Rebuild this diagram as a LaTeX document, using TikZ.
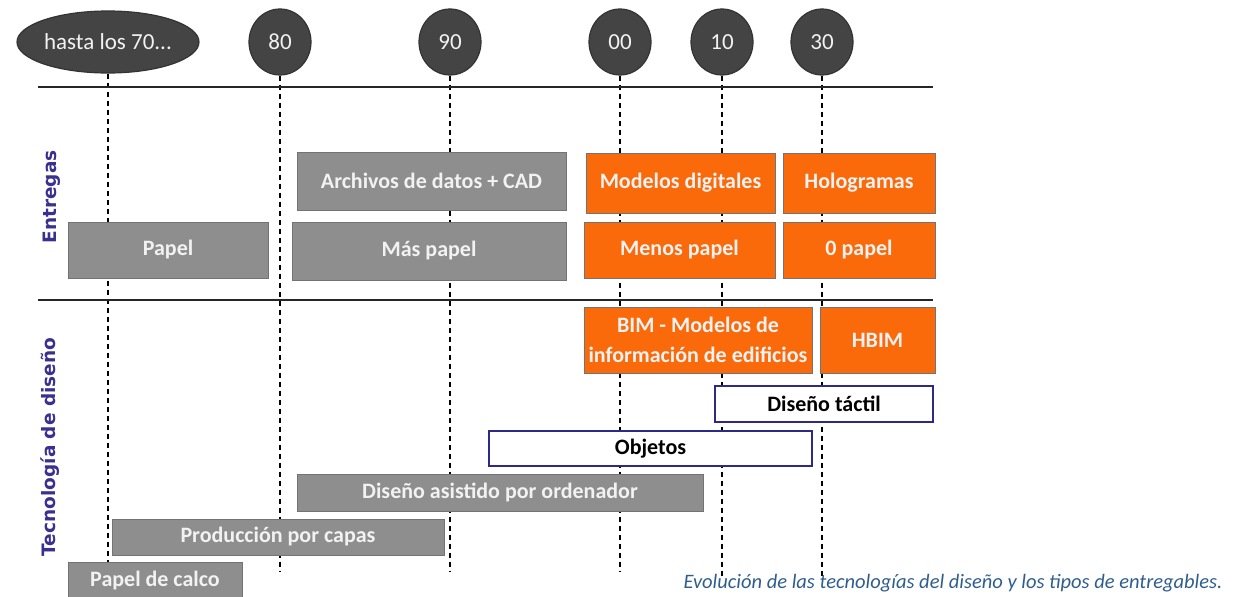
\documentclass[tikz,border=0pt]{standalone}
\usepackage{fontspec}
\setmainfont{Carlito}
\newfontfamily\labfont{DejaVu Sans}
\usetikzlibrary{shapes.geometric}
\definecolor{boxgray}{HTML}{8E8E8E}
\definecolor{boxorange}{HTML}{FA6A0A}
\definecolor{circdark}{HTML}{444444}
\definecolor{labblue}{HTML}{3A3090}
\definecolor{capblue}{HTML}{2F5E8E}
\definecolor{framblue}{HTML}{2C2A86}
\definecolor{txtlight}{HTML}{F2F2F2}
\begin{document}
\begin{tikzpicture}[x=1pt,y=-1pt,
  era/.style={ellipse,fill=circdark,draw=black!80,line width=1.2pt,
    text=txtlight,font=\fontsize{23}{25}\selectfont,inner sep=0pt},
  vline/.style={draw=black,dash pattern=on 5pt off 4pt,line width=1.2pt},
  hline/.style={draw=black!85,line width=2pt},
  graybar/.style={rectangle,fill=boxgray,draw=black!55,line width=0.8pt,text=txtlight,
    font=\bfseries\fontsize{22}{24}\selectfont,inner sep=0pt},
  orangebar/.style={rectangle,fill=boxorange,draw=black!55,line width=0.8pt,text=txtlight,
    font=\bfseries\fontsize{22}{30}\selectfont,inner sep=0pt,align=center},
  framebar/.style={rectangle,fill=white,draw=framblue,line width=2.8pt,text=black,
    font=\bfseries\fontsize{22}{24}\selectfont,inner sep=0pt},
  sidelab/.style={rotate=90,text=labblue,font=\labfont\bfseries\fontsize{18.5}{20}\selectfont}
]
\useasboundingbox (0,0) rectangle (1253,597);

% timeline markers
\node[era,minimum width=182pt,minimum height=62pt] (c70) at (108,42) {hasta los 70...};
\node[era,minimum width=62pt,minimum height=66pt] (c80) at (280,42) {80};
\node[era,minimum width=62pt,minimum height=66pt] (c90) at (450,42) {90};
\node[era,minimum width=62pt,minimum height=66pt] (c00) at (620,42) {00};
\node[era,minimum width=62pt,minimum height=66pt] (c10) at (722,42) {10};
\node[era,minimum width=62pt,minimum height=66pt] (c30) at (822,42) {30};

% bottom ends of the dashed guides
\coordinate (e70) at (108,572);
\coordinate (e80) at (280,572);
\coordinate (e90) at (450,572);
\coordinate (e00) at (620,572);
\coordinate (e10) at (722,576);
\coordinate (e30) at (822,576);

\draw[vline] (c70.south) -- (e70);
\draw[vline] (c80.south) -- (e80);
\draw[vline] (c90.south) -- (e90);
\draw[vline] (c00.south) -- (e00);
\draw[vline] (c10.south) -- (e10);
\draw[vline] (c30.south) -- (e30);

% horizontal separators
\coordinate (hl1) at (38,87);
\coordinate (hr1) at (933,87);
\coordinate (hl2) at (38,300);
\coordinate (hr2) at (933,300);
\draw[hline] (hl1) -- (hr1);
\draw[hline] (hl2) -- (hr2);

% side labels
\node[sidelab] (lent) at (52,197) {Entregas};
\node[sidelab] (ltec) at (50,447) {Tecnología de diseño};

% Entregas
\node[graybar,minimum width=269pt,minimum height=58pt] (arch) at (431.5,181) {Archivos de datos + CAD};
\node[graybar,minimum width=200pt,minimum height=56pt] (pap) at (168,250) {Papel};
\node[graybar,minimum width=274pt,minimum height=58pt] (mas) at (429,251) {Más papel};
\node[orangebar,minimum width=189pt,minimum height=60pt] (mod) at (680.5,183) {Modelos digitales};
\node[orangebar,minimum width=152pt,minimum height=60pt] (hol) at (859,183) {Hologramas};
\node[orangebar,minimum width=191pt,minimum height=56pt] (men) at (679.5,250) {Menos papel};
\node[orangebar,minimum width=152pt,minimum height=56pt] (cero) at (859,250) {0 papel};

% Tecnologia
\node[orangebar,minimum width=228pt,minimum height=66pt] (bim) at (698,340) {BIM - Modelos de\\información de edificios};
\node[orangebar,minimum width=115pt,minimum height=66pt] (hbim) at (877.5,340) {HBIM};
\node[framebar,minimum width=218pt,minimum height=36pt] (tact) at (824,404) {Diseño táctil};
\node[framebar,minimum width=323pt,minimum height=35pt] (obj) at (650.5,448.5) {Objetos};
\node[graybar,minimum width=406pt,minimum height=37pt] (cad) at (500,492.5) {Diseño asistido por ordenador};
\node[graybar,minimum width=332pt,minimum height=36pt] (capas) at (278,537) {Producción por capas};
\node[graybar,minimum width=174pt,minimum height=38pt] (calco) at (155,581) {Papel de calco};

% caption
\node[text=capblue,font=\itshape\fontsize{20.5}{22}\selectfont,anchor=east] (cap) at (1226,583) {Evolución de las tecnologías del diseño y los tipos de entregables.};
\end{tikzpicture}
\end{document}
